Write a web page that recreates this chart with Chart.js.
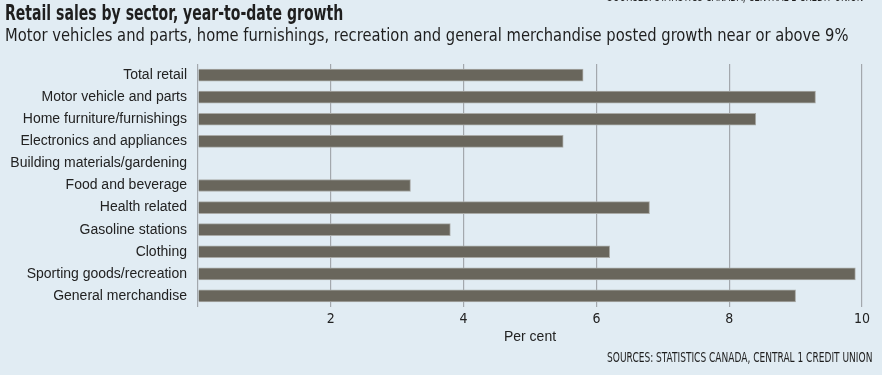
<!DOCTYPE html>
<html>
<head>
<meta charset="utf-8">
<script src="https://cdn.jsdelivr.net/npm/chart.js@4"></script>
<style>
  html, body { margin:0; padding:0; background:#e1ecf3; }
  #wrap { position:relative; width:882px; height:375px; overflow:hidden; background:#e1ecf3; }
  #chartBox { position:absolute; left:0; top:0; width:882px; height:375px; }
  .txt { position:absolute; white-space:nowrap; color:#1e1e1e; }
  #title { left:5px; top:0px; font:bold 22px "DejaVu Sans Condensed", sans-serif; transform-origin:left top; }
  #subtitle { left:5px; top:24px; font:18.5px "DejaVu Sans Condensed", sans-serif; transform-origin:left top; }
  .src { font:14px "DejaVu Sans Condensed", sans-serif; transform-origin:right top; right:10px; }
  #srcTop { top:-12px; right:19px; }
  #srcBottom { top:349px; }
</style>
</head>
<body>
<div id="wrap">
  <div id="chartBox"><canvas id="retailChart"></canvas></div>
  <div class="txt src" id="srcTop">SOURCES: STATISTICS CANADA, CENTRAL 1 CREDIT UNION</div>
  <div class="txt" id="title">Retail sales by sector, year-to-date growth</div>
  <div class="txt" id="subtitle">Motor vehicles and parts, home furnishings, recreation and general merchandise posted growth near or above 9%</div>
  <div class="txt src" id="srcBottom">SOURCES: STATISTICS CANADA, CENTRAL 1 CREDIT UNION</div>
</div>
<script>
// DATA
const sectors = [
    'Total retail',
    'Motor vehicle and parts',
    'Home furniture/furnishings',
    'Electronics and appliances',
    'Building materials/gardening',
    'Food and beverage',
    'Health related',
    'Gasoline stations',
    'Clothing',
    'Sporting goods/recreation',
    'General merchandise'
];
const growth = [5.8, 9.3, 8.4, 5.5, 0, 3.2, 6.8, 3.8, 6.2, 9.9, 9.0];
const xTicks = [0, 2, 4, 6, 8, 10];

const labelFont = '"Liberation Sans", Roboto, sans-serif';

// squeeze the condensed headline texts to the widths they have in the print graphic
function fitWidth(id, target) {
    const el = document.getElementById(id);
    const w = el.offsetWidth;
    if (w > 0) el.style.transform = `scaleX(${target / w})`;
}
fitWidth('title', 338);
fitWidth('subtitle', 843);
fitWidth('srcTop', 256);
fitWidth('srcBottom', 265);

// CHART
const ctx = document.getElementById('retailChart');
new Chart(ctx, {
    type: 'bar',
    data: {
        labels: sectors,
        datasets: [{
            data: growth,
            backgroundColor: '#69665c',
            borderColor: '#a9aaa6',
            borderWidth: 1,
            borderSkipped: 'start',
            barThickness: 12
        }]
    },
    options: {
        indexAxis: 'y',
        responsive: true,
        maintainAspectRatio: false,
        animation: false,
        layout: { padding: { top: 64, right: 20, bottom: 29, left: 0 } },
        plugins: {
            legend: { display: false },
            tooltip: { enabled: false }
        },
        scales: {
            x: {
                min: 0,
                max: 10,
                afterBuildTicks: scale => { scale.ticks = xTicks.map(v => ({ value: v })); },
                grid: { color: '#a3a8ad', lineWidth: 1.2, drawTicks: false },
                border: { display: false },
                ticks: {
                    color: '#222',
                    font: { family: '"DejaVu Sans Condensed", sans-serif', size: 14 },
                    padding: 4,
                    callback: v => v === 0 ? '' : v
                },
                title: {
                    display: true,
                    text: 'Per cent',
                    color: '#222',
                    font: { family: labelFont, size: 14 },
                    padding: { top: 1, bottom: 0 }
                },
                afterFit: scale => { scale.height = 39; }
            },
            y: {
                grid: { display: false, drawTicks: false },
                border: { display: false },
                ticks: {
                    color: '#222',
                    font: { family: labelFont, size: 14 },
                    padding: 11,
                    autoSkip: false
                },
                afterFit: scale => { scale.width = 198; }
            }
        }
    }
});
</script>
</body>
</html>
